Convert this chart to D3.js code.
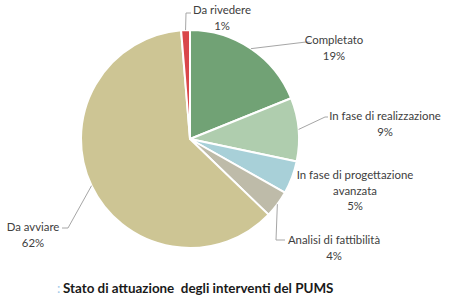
<!DOCTYPE html>
<html><head><meta charset="utf-8">
<script src="https://cdn.jsdelivr.net/npm/d3@7"></script>
<style>body{margin:0;background:#fff}svg{display:block}text{white-space:pre}</style>
</head><body>
<script>
const categories = ["Completato","In fase di realizzazione","In fase di progettazione avanzata","Analisi di fattibilità","Da avviare","Da rivedere"];
const values = [18.9, 9.4, 4.9, 4.0, 61.5, 1.3];
const colors = ["#71a275","#afcdae","#a8d0d8","#bebba9","#cdc594","#d9474a"];
const labelLines = [["Completato"],["In fase di realizzazione"],["In fase di progettazione","avanzata"],["Analisi di fattibilità"],["Da avviare"],["Da rivedere"]];
const title = "Stato di attuazione  degli interventi del PUMS";

// layout (positions of labels and leader elbows)
const layout = [
  {cx:334, y:44, elbow:[306,42], end:[310,42]},
  {cx:385, y:120, elbow:[325,117], end:[328,117]},
  {cx:355, y:179, elbow:null},
  {cx:334, y:244, elbow:[276,240], end:[285,240]},
  {cx:33, y:231, elbow:[68,228], end:[62,228]},
  {cx:222, y:14, elbow:[186,13], end:[191,13]}
];

const W=450,H=306, cx=190, cy=139, R=109;
const svg = d3.select("body").append("svg").attr("width",W).attr("height",H);
const pie = d3.pie().sort(null).value(d=>d)(values);
const arc = d3.arc().innerRadius(0).outerRadius(R);
const g = svg.append("g").attr("transform",`translate(${cx},${cy})`);
g.selectAll("path").data(pie).join("path")
  .attr("d",arc).attr("fill",(d,i)=>colors[i])
  .attr("stroke","#fff").attr("stroke-width",2).attr("stroke-linejoin","round");

const fontFam = "Lato, 'Open Sans', sans-serif";
pie.forEach((d,i)=>{
  const L = layout[i];
  const mid = (d.startAngle+d.endAngle)/2;
  if (L.elbow){
    const sx = cx + R*Math.sin(mid), sy = cy - R*Math.cos(mid);
    svg.append("polyline")
      .attr("points",[[sx,sy],L.elbow,L.end].map(p=>p.join(",")).join(" "))
      .attr("fill","none").attr("stroke","#a6a6a6").attr("stroke-width",1);
  }
  const lines = labelLines[i].concat([Math.round(values[i])+"%"]);
  const t = svg.append("text").attr("text-anchor","middle")
    .attr("font-family",fontFam).attr("font-size",11.4).attr("fill","#404040");
  lines.forEach((s,k)=>{
    t.append("tspan").attr("x",L.cx).attr("y",L.y+k*15.5).text(s);
  });
});

const tt = svg.append("text").attr("x",57).attr("y",293)
  .attr("font-family",fontFam).attr("font-size",13.4).attr("font-weight","bold").attr("fill","#1a1a1a");
tt.append("tspan").attr("fill","#9fc8e8").attr("font-weight","normal").text(": ");
tt.append("tspan").attr("x",63).text(title);
</script>
</body></html>
